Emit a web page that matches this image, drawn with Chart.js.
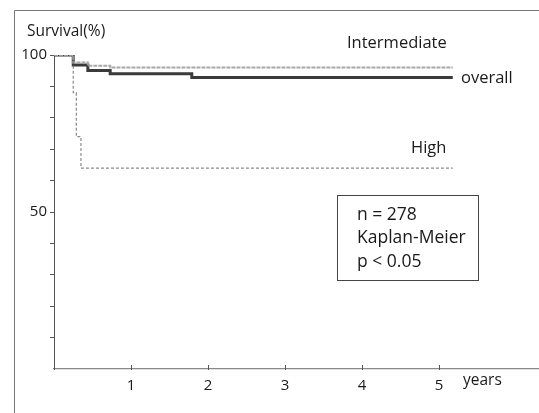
<!DOCTYPE html>
<html>
<head>
<meta charset="utf-8">
<script src="https://cdn.jsdelivr.net/npm/chart.js@4.4.1/dist/chart.umd.min.js"></script>
<style>
  html, body { margin: 0; padding: 0; background: #fff; }
  #wrap { position: relative; width: 539px; height: 413px; }
</style>
</head>
<body>
<div id="wrap"><canvas id="km"></canvas></div>
<script>
'use strict';
// Kaplan-Meier: przeżycie wg grupy ryzyka

// ---------- dane ----------
const overallT = [0, 0.25, 0.44, 0.73, 1.79, 5.18];
const overallS = [100, 96.8, 95.1, 94.0, 92.8, 92.8];
const interT   = [0, 0.25, 0.44, 0.73, 5.18];
const interS   = [100, 97.6, 96.6, 96.0, 96.0];
const highT    = [0, 0.25, 0.29, 0.35, 5.18];
const highS    = [100, 88.0, 74.0, 64.0, 64.0];
const xTicks   = [1, 2, 3, 4, 5];
const yTickLabels = [100, 50];
const boxLines = ['n = 278', 'Kaplan-Meier', 'p \u003C 0.05'];

const FONT = '"Open Sans", "Liberation Sans", sans-serif';
const pts = (t, s) => t.map((x, i) => ({ x, y: s[i] }));

// ---------- dekoracje: ramka skanu, podpisy, ramka z opisem ----------
const annot = {
  id: 'annot',
  beforeDraw(chart) {
    const c = chart.ctx;
    c.save();
    c.strokeStyle = '#777'; c.lineWidth = 1;
    c.beginPath(); c.moveTo(14.5, 413); c.lineTo(14.5, 10.5); c.lineTo(539, 10.5); c.stroke();
    c.restore();
  },
  afterDraw(chart) {
    const c = chart.ctx, xs = chart.scales.x;
    c.save();
    // krótkie kreski podziałki na osi X (do góry)
    c.strokeStyle = '#555'; c.lineWidth = 1;
    const yb = chart.chartArea.bottom;
    xTicks.forEach(v => {
      const px = Math.round(xs.getPixelForValue(v)) + 0.5;
      c.beginPath(); c.moveTo(px, yb - 4); c.lineTo(px, yb + 1); c.stroke();
    });
    c.fillStyle = '#1a1a1a';
    c.textBaseline = 'middle';
    c.textAlign = 'left';
    c.font = '15.5px ' + FONT;
    c.fillText('Survival(%)', 27, 32);
    c.fillText('years', 463, 381);
    c.font = '16.5px ' + FONT;
    c.fillText('Intermediate', 347, 43);
    c.fillText('overall', 461, 78);
    c.fillText('High', 411, 148);
    // ramka z opisem
    c.strokeStyle = '#444'; c.lineWidth = 1;
    c.strokeRect(337.5, 195.5, 141, 85);
    c.font = '17.5px ' + FONT;
    boxLines.forEach((t, i) => c.fillText(t, 357, 215 + i * 23.5));
    c.restore();
  }
};

const ds = (label, data, color, width, dash) => ({
  label, data, borderColor: color, borderWidth: width, borderDash: dash,
  stepped: 'before', pointRadius: 0, fill: false, tension: 0,
});

new Chart(document.getElementById('km'), {
  type: 'line',
  data: {
    datasets: [
      ds('High', pts(highT, highS), '#8a8a8a', 1.2, [3, 2]),
      ds('Intermediate', pts(interT, interS), '#a8a8a8', 2, [4, 1]),
      ds('overall', pts(overallT, overallS), '#3a3a3a', 3, []),
    ],
  },
  options: {
    responsive: true, maintainAspectRatio: false, animation: false,
    layout: { padding: { top: 55, right: 0, left: 0, bottom: 0 } },
    plugins: { legend: { display: false }, tooltip: { enabled: false } },
    scales: {
      x: {
        type: 'linear', min: 0, max: 6.3,
        afterBuildTicks: s => { s.ticks = xTicks.map(v => ({ value: v })); },
        afterFit: s => { s.height = 44; },
        border: { display: true, color: '#888', width: 1.2 },
        grid: { display: false },
        ticks: { color: '#1a1a1a', font: { family: FONT, size: 15 }, padding: 0, maxRotation: 0 },
      },
      y: {
        min: 0, max: 100,
        afterFit: s => { s.width = 54; },
        border: { display: true, color: '#555', width: 1 },
        grid: {
          drawOnChartArea: false, drawTicks: true, tickLength: 4,
          color: ctx => ctx.tick && ctx.tick.value === 0 ? 'rgba(0,0,0,0)' : '#555',
        },
        ticks: {
          stepSize: 10, color: '#1a1a1a', font: { family: FONT, size: 15 }, padding: 3,
          callback: v => yTickLabels.includes(v) ? String(v) : '',
        },
      },
    },
  },
  plugins: [annot],
});
</script>
</body>
</html>
